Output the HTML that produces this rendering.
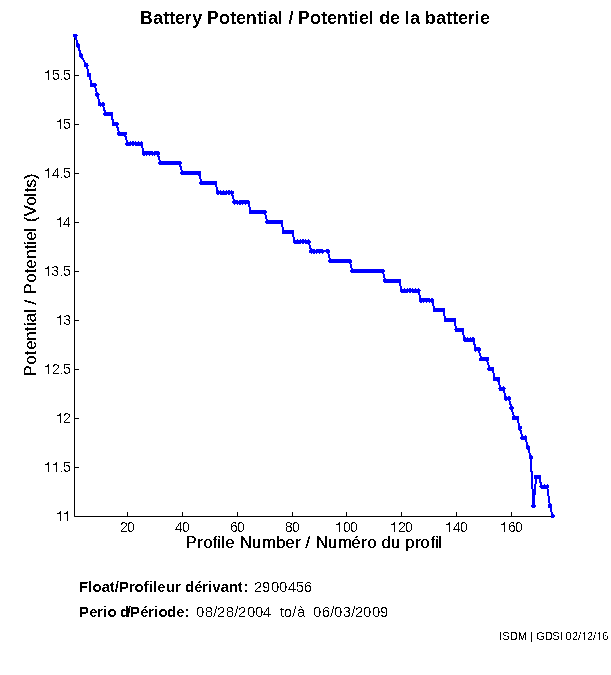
<!DOCTYPE html>
<html><head><meta charset="utf-8"><style>
html,body{margin:0;padding:0;background:#fff;}
body{width:611px;height:675px;overflow:hidden;position:relative;}
svg{position:absolute;left:0;top:0;}
text{font-family:"Liberation Sans",sans-serif;}
</style></head><body>
<svg width="611" height="675" viewBox="0 0 611 675">
<defs><filter id="fthin" x="0" y="0" width="611" height="675" filterUnits="userSpaceOnUse"><feComponentTransfer><feFuncA type="discrete" tableValues="0 0 0 1 1"/></feComponentTransfer></filter><filter id="fbold" x="0" y="0" width="611" height="675" filterUnits="userSpaceOnUse"><feComponentTransfer><feFuncA type="discrete" tableValues="0 1"/></feComponentTransfer></filter><filter id="flab" x="0" y="0" width="611" height="675" filterUnits="userSpaceOnUse"><feComponentTransfer><feFuncA type="discrete" tableValues="0 1 1"/></feComponentTransfer></filter><filter id="ffoot" x="0" y="0" width="611" height="675" filterUnits="userSpaceOnUse"><feComponentTransfer><feFuncA type="discrete" tableValues="0 1"/></feComponentTransfer></filter></defs>
<rect width="611" height="675" fill="#fff"/>
<path d="M74.5 36V516.5H552.5 M74.5 516.5H79 M74.5 467.5H79 M74.5 418.5H79 M74.5 369.5H79 M74.5 320.5H79 M74.5 271.5H79 M74.5 222.5H79 M74.5 173.5H79 M74.5 124.5H79 M74.5 75.5H79 M127.5 516.5V512 M182.5 516.5V512 M237.5 516.5V512 M292.5 516.5V512 M346.5 516.5V512 M401.5 516.5V512 M456.5 516.5V512 M511.5 516.5V512 " fill="none" stroke="#000" stroke-width="1"/>
<polyline points="75.38,35.80 78.13,45.60 80.87,55.40 86.36,65.20 89.10,75.00 91.84,84.80 94.58,84.80 97.33,94.60 100.07,104.40 102.81,104.40 105.56,114.20 108.30,114.20 111.04,114.20 113.78,124.00 116.53,124.00 119.27,133.80 122.01,133.80 124.76,133.80 127.50,143.60 130.24,143.60 132.99,143.60 135.73,143.60 138.47,143.60 141.22,143.60 143.96,153.40 146.70,153.40 149.44,153.40 152.19,153.40 154.93,153.40 157.67,153.40 160.42,163.20 163.16,163.20 165.90,163.20 168.64,163.20 171.39,163.20 174.13,163.20 176.87,163.20 179.62,163.20 182.36,173.00 185.10,173.00 187.85,173.00 190.59,173.00 193.33,173.00 196.07,173.00 198.82,173.00 201.56,182.80 204.30,182.80 207.05,182.80 209.79,182.80 212.53,182.80 215.28,182.80 218.02,192.60 220.76,192.60 223.50,192.60 226.25,192.60 228.99,192.60 231.73,192.60 234.48,202.40 237.22,202.40 239.96,202.40 242.71,202.40 245.45,202.40 248.19,202.40 250.94,212.20 253.68,212.20 256.42,212.20 259.16,212.20 261.91,212.20 264.65,212.20 267.39,222.00 270.14,222.00 272.88,222.00 275.62,222.00 278.37,222.00 281.11,222.00 283.85,231.80 286.59,231.80 289.34,231.80 292.08,231.80 294.82,241.60 297.57,241.60 300.31,241.60 303.05,241.60 305.80,241.60 308.54,241.60 311.28,251.40 314.02,251.40 316.77,251.40 319.51,251.40 322.25,251.40 327.74,251.40 330.48,261.20 333.22,261.20 335.97,261.20 338.71,261.20 341.45,261.20 344.20,261.20 346.94,261.20 349.68,261.20 352.43,271.00 355.17,271.00 357.91,271.00 360.65,271.00 363.40,271.00 366.14,271.00 368.88,271.00 371.63,271.00 374.37,271.00 377.11,271.00 379.86,271.00 382.60,271.00 385.34,280.80 388.08,280.80 390.83,280.80 393.57,280.80 396.31,280.80 399.06,280.80 401.80,290.60 404.54,290.60 407.29,290.60 410.03,290.60 412.77,290.60 415.51,290.60 418.26,290.60 421.00,300.40 423.74,300.40 426.49,300.40 429.23,300.40 431.97,300.40 434.72,310.20 437.46,310.20 440.20,310.20 442.94,310.20 445.69,320.00 448.43,320.00 451.17,320.00 453.92,320.00 456.66,329.80 459.40,329.80 462.15,329.80 464.89,339.60 467.63,339.60 470.37,339.60 473.12,339.60 475.86,349.40 478.60,349.40 481.35,359.20 484.09,359.20 486.83,359.20 489.58,369.00 492.32,369.00 495.06,378.80 497.80,378.80 500.55,388.60 503.29,388.60 506.03,398.40 508.78,398.40 511.52,408.20 514.26,418.00 517.01,418.00 519.75,427.80 522.49,437.60 525.24,437.60 527.98,447.40 530.72,457.20 533.46,506.20 536.21,476.80 538.95,476.80 541.69,486.60 544.44,486.60 547.18,486.60 549.92,506.20 552.66,516.00" fill="none" stroke="#0000ff" stroke-width="2" stroke-linejoin="round" shape-rendering="crispEdges"/>
<g fill="#0000ff" shape-rendering="crispEdges"><circle cx="75.38" cy="35.80" r="2.3"/><circle cx="78.13" cy="45.60" r="2.3"/><circle cx="80.87" cy="55.40" r="2.3"/><circle cx="86.36" cy="65.20" r="2.3"/><circle cx="89.10" cy="75.00" r="2.3"/><circle cx="91.84" cy="84.80" r="2.3"/><circle cx="94.58" cy="84.80" r="2.3"/><circle cx="97.33" cy="94.60" r="2.3"/><circle cx="100.07" cy="104.40" r="2.3"/><circle cx="102.81" cy="104.40" r="2.3"/><circle cx="105.56" cy="114.20" r="2.3"/><circle cx="108.30" cy="114.20" r="2.3"/><circle cx="111.04" cy="114.20" r="2.3"/><circle cx="113.78" cy="124.00" r="2.3"/><circle cx="116.53" cy="124.00" r="2.3"/><circle cx="119.27" cy="133.80" r="2.3"/><circle cx="122.01" cy="133.80" r="2.3"/><circle cx="124.76" cy="133.80" r="2.3"/><circle cx="127.50" cy="143.60" r="2.3"/><circle cx="130.24" cy="143.60" r="2.3"/><circle cx="132.99" cy="143.60" r="2.3"/><circle cx="135.73" cy="143.60" r="2.3"/><circle cx="138.47" cy="143.60" r="2.3"/><circle cx="141.22" cy="143.60" r="2.3"/><circle cx="143.96" cy="153.40" r="2.3"/><circle cx="146.70" cy="153.40" r="2.3"/><circle cx="149.44" cy="153.40" r="2.3"/><circle cx="152.19" cy="153.40" r="2.3"/><circle cx="154.93" cy="153.40" r="2.3"/><circle cx="157.67" cy="153.40" r="2.3"/><circle cx="160.42" cy="163.20" r="2.3"/><circle cx="163.16" cy="163.20" r="2.3"/><circle cx="165.90" cy="163.20" r="2.3"/><circle cx="168.64" cy="163.20" r="2.3"/><circle cx="171.39" cy="163.20" r="2.3"/><circle cx="174.13" cy="163.20" r="2.3"/><circle cx="176.87" cy="163.20" r="2.3"/><circle cx="179.62" cy="163.20" r="2.3"/><circle cx="182.36" cy="173.00" r="2.3"/><circle cx="185.10" cy="173.00" r="2.3"/><circle cx="187.85" cy="173.00" r="2.3"/><circle cx="190.59" cy="173.00" r="2.3"/><circle cx="193.33" cy="173.00" r="2.3"/><circle cx="196.07" cy="173.00" r="2.3"/><circle cx="198.82" cy="173.00" r="2.3"/><circle cx="201.56" cy="182.80" r="2.3"/><circle cx="204.30" cy="182.80" r="2.3"/><circle cx="207.05" cy="182.80" r="2.3"/><circle cx="209.79" cy="182.80" r="2.3"/><circle cx="212.53" cy="182.80" r="2.3"/><circle cx="215.28" cy="182.80" r="2.3"/><circle cx="218.02" cy="192.60" r="2.3"/><circle cx="220.76" cy="192.60" r="2.3"/><circle cx="223.50" cy="192.60" r="2.3"/><circle cx="226.25" cy="192.60" r="2.3"/><circle cx="228.99" cy="192.60" r="2.3"/><circle cx="231.73" cy="192.60" r="2.3"/><circle cx="234.48" cy="202.40" r="2.3"/><circle cx="237.22" cy="202.40" r="2.3"/><circle cx="239.96" cy="202.40" r="2.3"/><circle cx="242.71" cy="202.40" r="2.3"/><circle cx="245.45" cy="202.40" r="2.3"/><circle cx="248.19" cy="202.40" r="2.3"/><circle cx="250.94" cy="212.20" r="2.3"/><circle cx="253.68" cy="212.20" r="2.3"/><circle cx="256.42" cy="212.20" r="2.3"/><circle cx="259.16" cy="212.20" r="2.3"/><circle cx="261.91" cy="212.20" r="2.3"/><circle cx="264.65" cy="212.20" r="2.3"/><circle cx="267.39" cy="222.00" r="2.3"/><circle cx="270.14" cy="222.00" r="2.3"/><circle cx="272.88" cy="222.00" r="2.3"/><circle cx="275.62" cy="222.00" r="2.3"/><circle cx="278.37" cy="222.00" r="2.3"/><circle cx="281.11" cy="222.00" r="2.3"/><circle cx="283.85" cy="231.80" r="2.3"/><circle cx="286.59" cy="231.80" r="2.3"/><circle cx="289.34" cy="231.80" r="2.3"/><circle cx="292.08" cy="231.80" r="2.3"/><circle cx="294.82" cy="241.60" r="2.3"/><circle cx="297.57" cy="241.60" r="2.3"/><circle cx="300.31" cy="241.60" r="2.3"/><circle cx="303.05" cy="241.60" r="2.3"/><circle cx="305.80" cy="241.60" r="2.3"/><circle cx="308.54" cy="241.60" r="2.3"/><circle cx="311.28" cy="251.40" r="2.3"/><circle cx="314.02" cy="251.40" r="2.3"/><circle cx="316.77" cy="251.40" r="2.3"/><circle cx="319.51" cy="251.40" r="2.3"/><circle cx="322.25" cy="251.40" r="2.3"/><circle cx="327.74" cy="251.40" r="2.3"/><circle cx="330.48" cy="261.20" r="2.3"/><circle cx="333.22" cy="261.20" r="2.3"/><circle cx="335.97" cy="261.20" r="2.3"/><circle cx="338.71" cy="261.20" r="2.3"/><circle cx="341.45" cy="261.20" r="2.3"/><circle cx="344.20" cy="261.20" r="2.3"/><circle cx="346.94" cy="261.20" r="2.3"/><circle cx="349.68" cy="261.20" r="2.3"/><circle cx="352.43" cy="271.00" r="2.3"/><circle cx="355.17" cy="271.00" r="2.3"/><circle cx="357.91" cy="271.00" r="2.3"/><circle cx="360.65" cy="271.00" r="2.3"/><circle cx="363.40" cy="271.00" r="2.3"/><circle cx="366.14" cy="271.00" r="2.3"/><circle cx="368.88" cy="271.00" r="2.3"/><circle cx="371.63" cy="271.00" r="2.3"/><circle cx="374.37" cy="271.00" r="2.3"/><circle cx="377.11" cy="271.00" r="2.3"/><circle cx="379.86" cy="271.00" r="2.3"/><circle cx="382.60" cy="271.00" r="2.3"/><circle cx="385.34" cy="280.80" r="2.3"/><circle cx="388.08" cy="280.80" r="2.3"/><circle cx="390.83" cy="280.80" r="2.3"/><circle cx="393.57" cy="280.80" r="2.3"/><circle cx="396.31" cy="280.80" r="2.3"/><circle cx="399.06" cy="280.80" r="2.3"/><circle cx="401.80" cy="290.60" r="2.3"/><circle cx="404.54" cy="290.60" r="2.3"/><circle cx="407.29" cy="290.60" r="2.3"/><circle cx="410.03" cy="290.60" r="2.3"/><circle cx="412.77" cy="290.60" r="2.3"/><circle cx="415.51" cy="290.60" r="2.3"/><circle cx="418.26" cy="290.60" r="2.3"/><circle cx="421.00" cy="300.40" r="2.3"/><circle cx="423.74" cy="300.40" r="2.3"/><circle cx="426.49" cy="300.40" r="2.3"/><circle cx="429.23" cy="300.40" r="2.3"/><circle cx="431.97" cy="300.40" r="2.3"/><circle cx="434.72" cy="310.20" r="2.3"/><circle cx="437.46" cy="310.20" r="2.3"/><circle cx="440.20" cy="310.20" r="2.3"/><circle cx="442.94" cy="310.20" r="2.3"/><circle cx="445.69" cy="320.00" r="2.3"/><circle cx="448.43" cy="320.00" r="2.3"/><circle cx="451.17" cy="320.00" r="2.3"/><circle cx="453.92" cy="320.00" r="2.3"/><circle cx="456.66" cy="329.80" r="2.3"/><circle cx="459.40" cy="329.80" r="2.3"/><circle cx="462.15" cy="329.80" r="2.3"/><circle cx="464.89" cy="339.60" r="2.3"/><circle cx="467.63" cy="339.60" r="2.3"/><circle cx="470.37" cy="339.60" r="2.3"/><circle cx="473.12" cy="339.60" r="2.3"/><circle cx="475.86" cy="349.40" r="2.3"/><circle cx="478.60" cy="349.40" r="2.3"/><circle cx="481.35" cy="359.20" r="2.3"/><circle cx="484.09" cy="359.20" r="2.3"/><circle cx="486.83" cy="359.20" r="2.3"/><circle cx="489.58" cy="369.00" r="2.3"/><circle cx="492.32" cy="369.00" r="2.3"/><circle cx="495.06" cy="378.80" r="2.3"/><circle cx="497.80" cy="378.80" r="2.3"/><circle cx="500.55" cy="388.60" r="2.3"/><circle cx="503.29" cy="388.60" r="2.3"/><circle cx="506.03" cy="398.40" r="2.3"/><circle cx="508.78" cy="398.40" r="2.3"/><circle cx="511.52" cy="408.20" r="2.3"/><circle cx="514.26" cy="418.00" r="2.3"/><circle cx="517.01" cy="418.00" r="2.3"/><circle cx="519.75" cy="427.80" r="2.3"/><circle cx="522.49" cy="437.60" r="2.3"/><circle cx="525.24" cy="437.60" r="2.3"/><circle cx="527.98" cy="447.40" r="2.3"/><circle cx="530.72" cy="457.20" r="2.3"/><circle cx="533.46" cy="506.20" r="2.3"/><circle cx="536.21" cy="476.80" r="2.3"/><circle cx="538.95" cy="476.80" r="2.3"/><circle cx="541.69" cy="486.60" r="2.3"/><circle cx="544.44" cy="486.60" r="2.3"/><circle cx="547.18" cy="486.60" r="2.3"/><circle cx="549.92" cy="506.20" r="2.3"/><circle cx="552.66" cy="516.00" r="2.3"/></g>
<g fill="#000" filter="url(#fthin)"><text x="56.25 63.25" y="521.0" font-size="14">  </text><text x="45.25 51.25 59.5 63" y="472.0" font-size="14">  .5</text><text x="55.25 63" y="423.0" font-size="14"> 2</text><text x="43.25 52 59.5 63" y="374.0" font-size="14"> 2.5</text><text x="55.25 63.25" y="325.0" font-size="14"> 3</text><text x="43.25 51.25 59.5 63" y="276.0" font-size="14"> 3.5</text><text x="55.25 63" y="227.0" font-size="14"> 4</text><text x="43.25 52 59.5 63" y="178.0" font-size="14"> 4.5</text><text x="55.25 63" y="129.0" font-size="14"> 5</text><text x="43.25 52 59.5 63" y="80.0" font-size="14"> 5.5</text><text x="120 127" y="532" font-size="14">20</text><text x="175 182" y="532" font-size="14">40</text><text x="230 237" y="532" font-size="14">60</text><text x="285 292" y="532" font-size="14">80</text><text x="335.25 343 350" y="532" font-size="14"> 00</text><text x="390.25 398 405" y="532" font-size="14"> 20</text><text x="445.25 453 460" y="532" font-size="14"> 40</text><text x="500.25 508 515" y="532" font-size="14"> 60</text><text x="254 262 271 279 287.75 295.75 303.75" y="592" font-size="15">2900456</text><text x="196 204.75 213.25 217 225.75 234.25 238 247 255 262.75" y="617" font-size="15">08/28/2004</text><text x="279.75 283.75 292.25 297" y="617" font-size="15">to/à</text><text x="313 321.75 330.25 334 342.75 351.25 355 363 372 380" y="617" font-size="15">06/03/2009</text></g>
<g fill="#000" filter="url(#fbold)"><text x="139.75 153.25 163.25 169.25 175 184.75 192.25 202.016 206.75 219 230.25 236 245.75 257.25 262.75 268.25 277.75 283.031 288.5 293.031 297.75 310 321.25 327 336.75 348.25 353.75 359 368.75 374.031 379.25 390 400.047 404.75 410.25 420.062 424.75 436.25 446.25 452.25 458 467.75 474.75 480" y="24" font-size="18" font-weight="bold">Battery Potential / Potentiel de la batterie</text><text x="79 88 92.5 101.75 109.75 114.75 119 129 134.5 143.5 149 153 157.25 166 175 180.672 185 194.25 202 208 212.25 220.75 229 237.75 243.5" y="592" font-size="15" font-weight="bold">Float/Profileur dérivant:</text><text x="79 89.25 97 103 107.5 120 126.75 130 140.25 148 154 158.5 167 176.25 184.5" y="617" font-size="15" font-weight="bold">Period/Période:</text></g>
<g fill="#000" filter="url(#flab)"><text x="185.5 197.25 203.25 212.5 217.5 221.5 225.25 234.936 239.75 251.75 261.75 276 285.25 295.25 300.888 305.5 310.553 315.75 327.75 337.75 351.25 361.25 367.25 376.505 381.5 390.75 400.471 405 415.25 420.25 430.5 435.5 438.5" y="548" font-size="17">Profile Number / Numéro du profil</text><text x="-0.5 11.25 20.75 26.25 35.25 44.75 50 53.75 63.5 67.1269 71.5 76.7905 81.5 93.25 102.75 107.25 117.25 126.75 131 135.25 144.5 148.749 153.75 159.5 170.25 179.5 183.75 188.5 196.75" y="0" font-size="17" transform="translate(36 376) rotate(-90)">Potential / Potentiel (Volts)</text></g>
<g fill="#000" filter="url(#ffoot)"><text x="499 502.25 510 517.75 527 530 532.906 536.25 545 552.25 560 562.859 565.5 572 578 581.25 587 593 596.25 602.25" y="640" font-size="11">ISDM | GDSI 02/ 2/ 6</text></g>
<path d="M60 511h1v10h-1zM59 512h1v1h-1zM57 513h3v1h-3zM67 511h1v10h-1zM66 512h1v1h-1zM64 513h3v1h-3zM48 462h1v10h-1zM47 463h1v1h-1zM45 464h3v1h-3zM56 462h1v10h-1zM55 463h1v1h-1zM53 464h3v1h-3zM60 413h1v10h-1zM59 414h1v1h-1zM57 415h3v1h-3zM48 364h1v10h-1zM47 365h1v1h-1zM45 366h3v1h-3zM60 315h1v10h-1zM59 316h1v1h-1zM57 317h3v1h-3zM48 266h1v10h-1zM47 267h1v1h-1zM45 268h3v1h-3zM60 217h1v10h-1zM59 218h1v1h-1zM57 219h3v1h-3zM48 168h1v10h-1zM47 169h1v1h-1zM45 170h3v1h-3zM60 119h1v10h-1zM59 120h1v1h-1zM57 121h3v1h-3zM48 70h1v10h-1zM47 71h1v1h-1zM45 72h3v1h-3zM339 522h1v10h-1zM338 523h1v1h-1zM336 524h3v1h-3zM394 522h1v10h-1zM393 523h1v1h-1zM391 524h3v1h-3zM449 522h1v10h-1zM448 523h1v1h-1zM446 524h3v1h-3zM504 522h1v10h-1zM503 523h1v1h-1zM501 524h3v1h-3zM584 632h1v8h-1zM583 633h1v1h-1zM599 632h1v8h-1zM598 633h1v1h-1z" fill="#000" shape-rendering="crispEdges"/>
</svg>
</body></html>
